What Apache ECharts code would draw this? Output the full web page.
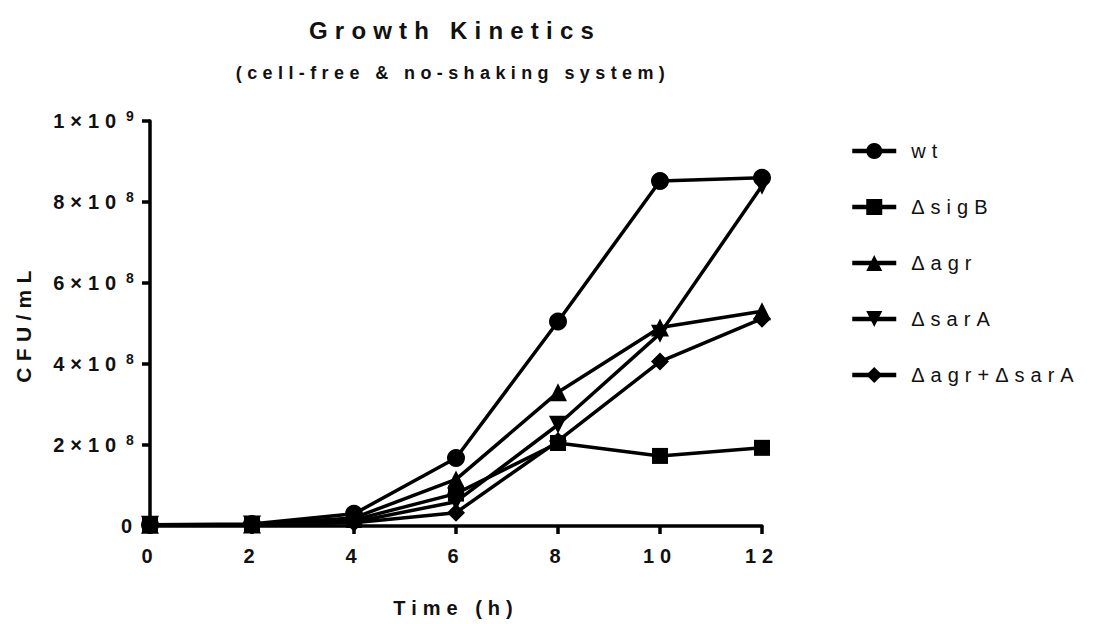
<!DOCTYPE html>
<html>
<head>
<meta charset="utf-8">
<script src="https://cdn.jsdelivr.net/npm/echarts@6/dist/echarts.min.js"></script>
<style>
  html, body { margin: 0; padding: 0; background: #fff; }
  #chart { width: 1094px; height: 624px; }
  #chart svg text { letter-spacing: 0.3em; }
</style>
</head>
<body>
<div id="chart"></div>
<script>
// ---- data ----
const hours = [0, 2, 4, 6, 8, 10, 12];
const seriesNames = ['wt', 'ΔsigB', 'Δagr', 'ΔsarA', 'Δagr+ΔsarA'];
const wt       = [3e6, 5e6, 3.0e7, 1.68e8, 5.05e8, 8.52e8, 8.60e8];
const sigB     = [3e6, 4e6, 1.5e7, 8.0e7, 2.05e8, 1.73e8, 1.93e8];
const agr      = [3e6, 4e6, 2.0e7, 1.15e8, 3.30e8, 4.90e8, 5.30e8];
const sarA     = [3e6, 4e6, 1.0e7, 6.0e7, 2.50e8, 4.75e8, 8.40e8];
const agrSarA  = [3e6, 4e6, 8.0e6, 3.3e7, 2.10e8, 4.06e8, 5.12e8];
// y tick labels: [mantissa×base, exponent]
const yTickLabels = {0: ['0', ''], 200000000: ['2×10', '8'], 400000000: ['4×10', '8'],
  600000000: ['6×10', '8'], 800000000: ['8×10', '8'], 1000000000: ['1×10', '9']};
const titleText = 'Growth Kinetics';
const subtitleText = '(cell-free & no-shaking system)';
const xAxisName = 'Time (h)';
const yAxisName = 'CFU/mL';

const font = "'Liberation Sans', Arial, sans-serif";
const symbols = ['circle', 'rect', 'triangle', 'triangle', 'diamond'];
const symbolSizes = [18, 16, 18, 18, 18];
const rotations = [0, 0, 0, 180, 0];
const allData = [wt, sigB, agr, sarA, agrSarA];

const chart = echarts.init(document.getElementById('chart'), null, {renderer: 'svg'});
chart.setOption({
  animation: false,
  backgroundColor: '#fff',
  title: [
    {text: titleText, left: 455, top: 18, textAlign: 'center', padding: 0,
     textStyle: {fontFamily: font, fontSize: 24, fontWeight: 'bold', color: '#111'}},
    {text: subtitleText, left: 453, top: 64, textAlign: 'center', padding: 0,
     textStyle: {fontFamily: font, fontSize: 18, fontWeight: 'bold', color: '#111'}}
  ],
  legend: {
    orient: 'vertical', left: 850, top: 141, padding: 0, itemWidth: 44, itemHeight: 20, itemGap: 36,
    data: seriesNames,
    lineStyle: {width: 4.5, color: '#000'},
    textStyle: {fontFamily: font, fontSize: 20, color: '#111', padding: [0, 0, 0, 10]}
  },
  grid: {left: 150, right: 332, top: 121, bottom: 98, containLabel: false},
  xAxis: {
    type: 'value', min: 0, max: 12, interval: 2,
    name: xAxisName, nameLocation: 'middle', nameGap: 72,
    nameTextStyle: {fontFamily: font, fontSize: 20, fontWeight: 'bold', color: '#111'},
    axisLine: {lineStyle: {color: '#000', width: 3.5}},
    axisTick: {length: 8, lineStyle: {color: '#000', width: 3.5}},
    axisLabel: {margin: 20, fontFamily: font, fontSize: 20, fontWeight: 'bold', color: '#111'},
    splitLine: {show: false}
  },
  yAxis: {
    type: 'value', min: 0, max: 1e9, interval: 2e8,
    name: yAxisName, nameLocation: 'middle', nameGap: 116, nameRotate: 90,
    nameTextStyle: {fontFamily: font, fontSize: 21, fontWeight: 'bold', color: '#111'},
    axisLine: {show: true, lineStyle: {color: '#000', width: 3.5}},
    axisTick: {show: true, length: 8, lineStyle: {color: '#000', width: 3.5}},
    axisLabel: {margin: 12, fontFamily: font, fontSize: 20, fontWeight: 'bold', color: '#111',
      formatter: v => {
        const t = yTickLabels[v];
        if (!t) return '';
        return t[1] ? '{m|' + t[0] + '}{s|' + t[1] + '}' : '{m|' + t[0] + '}';
      },
      rich: {
        m: {fontFamily: font, fontSize: 20, fontWeight: 'bold', color: '#111', lineHeight: 24},
        s: {fontFamily: font, fontSize: 14, fontWeight: 'bold', color: '#111', verticalAlign: 'top', padding: [0, 0, 0, 8]}
      }
    },
    splitLine: {show: false}
  },
  series: seriesNames.map((name, i) => ({
    name: name, type: 'line',
    data: hours.map((h, j) => [h, allData[i][j]]),
    symbol: symbols[i], symbolSize: symbolSizes[i], symbolRotate: rotations[i],
    showAllSymbol: true,
    lineStyle: {color: '#000', width: 3.5},
    itemStyle: {color: '#000', borderWidth: 0},
    z: 2
  }))
});
</script>
</body>
</html>
